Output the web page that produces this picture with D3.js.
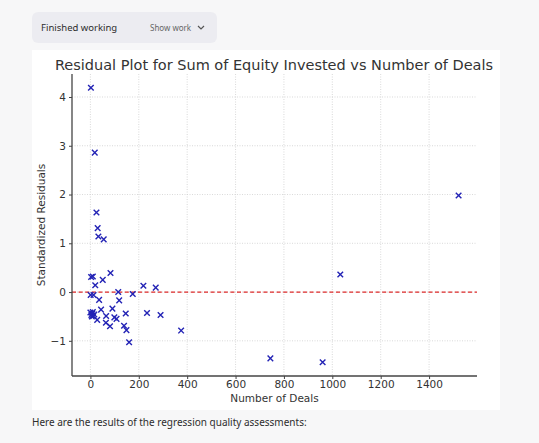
<!DOCTYPE html>
<meta charset="utf-8">
<style>
    body { margin: 0; background: #f7f7f8; }
    svg { display: block; font-family: "DejaVu Sans", sans-serif; }
    .grid line { stroke: #cfcfcf; stroke-dasharray: 1,1.5; stroke-width: 0.8; }
    .axis text { fill: #333; font-size: 10.5px; font-family: "DejaVu Sans", sans-serif; }
    .axis path, .axis line { stroke: #444; }
</style>
<script src="https://d3js.org/d3.v7.min.js"></script>
<body>
<script>
    var deals = [2, 18, 25, 30, 33, 55, 3, 10, 20, 51, 83, 1, 13, 36, 115, 119, 175, 219, 270,
        0, 4, 8, 12, 16, 6, 10, 44, 28, 65, 64, 81, 91, 99, 108, 146, 139, 149, 160,
        234, 290, 375, 744, 960, 1033, 1522];
    var residuals = [4.19, 2.86, 1.63, 1.31, 1.14, 1.08, 0.31, 0.32, 0.14, 0.25, 0.39, -0.06, -0.06, -0.16, 0.00, -0.17, -0.04, 0.13, 0.09,
        -0.42, -0.47, -0.44, -0.49, -0.46, -0.50, -0.41, -0.36, -0.57, -0.49, -0.63, -0.70, -0.34, -0.52, -0.55, -0.44, -0.69, -0.78, -1.03,
        -0.43, -0.47, -0.79, -1.36, -1.44, 0.36, 1.98];
    var xTicks = [0, 200, 400, 600, 800, 1000, 1200, 1400];
    var yTicks = [-1, 0, 1, 2, 3, 4];

    var width = 539, height = 443;
    var plot = {left: 72, right: 477, top: 74, bottom: 376};

    var svg = d3.select("body").append("svg")
        .attr("width", width)
        .attr("height", height);

    // page chrome
    svg.append("rect").attr("width", width).attr("height", height).attr("fill", "#f7f7f8");
    svg.append("rect").attr("x", 32).attr("y", 12).attr("width", 185).attr("height", 31)
        .attr("rx", 6).attr("fill", "#ececf1");
    svg.append("text").attr("x", 41).attr("y", 31).attr("font-size", 9.5)
        .attr("font-family", "Noto Sans, sans-serif").attr("fill", "#2d2d2d").text("Finished working");
    svg.append("text").attr("x", 150).attr("y", 31).attr("font-size", 8)
        .attr("font-family", "Noto Sans, sans-serif").attr("fill", "#666").text("Show work");
    svg.append("path").attr("d", "M198,26 l3,3 l3,-3").attr("fill", "none")
        .attr("stroke", "#555").attr("stroke-width", 1.2);
    svg.append("rect").attr("x", 32).attr("y", 50).attr("width", 468).attr("height", 360).attr("fill", "#fff");
    svg.append("text").attr("x", 32).attr("y", 426).attr("font-size", 10)
        .attr("font-family", "Noto Sans, sans-serif").attr("fill", "#2d2d2d")
        .text("Here are the results of the regression quality assessments:");

    var xExt = d3.extent(deals), yExt = d3.extent(residuals);
    var xPad = (xExt[1] - xExt[0]) * 0.05, yPad = (yExt[1] - yExt[0]) * 0.05;
    var x = d3.scaleLinear().domain([xExt[0] - xPad, xExt[1] + xPad]).range([plot.left, plot.right]);
    var y = d3.scaleLinear().domain([yExt[0] - yPad, yExt[1] + yPad]).range([plot.bottom, plot.top]);

    var grid = svg.append("g").attr("class", "grid");
    grid.selectAll(".gx").data(xTicks).enter().append("line")
        .attr("x1", function(d) { return x(d); }).attr("x2", function(d) { return x(d); })
        .attr("y1", plot.top).attr("y2", plot.bottom);
    grid.selectAll(".gy").data(yTicks).enter().append("line")
        .attr("y1", function(d) { return y(d); }).attr("y2", function(d) { return y(d); })
        .attr("x1", plot.left).attr("x2", plot.right);

    svg.append("line")
        .attr("x1", plot.left).attr("x2", plot.right)
        .attr("y1", y(0)).attr("y2", y(0))
        .attr("stroke", "#dd2a2a").attr("stroke-width", 1.3).attr("stroke-dasharray", "4,2.6");

    var pts = d3.range(deals.length);
    svg.append("g").selectAll("path").data(pts).enter().append("path")
        .attr("d", function(i) {
            var cx = x(deals[i]), cy = y(residuals[i]), s = 2.8;
            return "M" + (cx - s) + "," + (cy - s) + "L" + (cx + s) + "," + (cy + s) +
                "M" + (cx - s) + "," + (cy + s) + "L" + (cx + s) + "," + (cy - s);
        })
        .attr("stroke", "#2323b5").attr("stroke-width", 1.4).attr("fill", "none");

    var xAxis = svg.append("g").attr("class", "axis")
        .attr("transform", "translate(0," + plot.bottom + ")")
        .call(d3.axisBottom(x).tickValues(xTicks).tickSize(3).tickPadding(2).tickFormat(d3.format("d")));
    var yAxis = svg.append("g").attr("class", "axis")
        .attr("transform", "translate(" + plot.left + ",0)")
        .call(d3.axisLeft(y).tickValues(yTicks).tickSize(3).tickPadding(3)
            .tickFormat(function(d) { return d < 0 ? "\u2212" + Math.abs(d) : d; }));
    xAxis.select(".domain").attr("d", "M" + plot.left + ",0H" + plot.right).attr("stroke-width", 1.3);
    yAxis.select(".domain").attr("d", "M0," + plot.top + "V" + plot.bottom).attr("stroke-width", 1.3);

    svg.append("text").attr("x", (plot.left + plot.right) / 2).attr("y", 402)
        .attr("text-anchor", "middle").attr("font-size", 10.5).attr("fill", "#333")
        .text("Number of Deals");
    svg.append("text").attr("transform", "translate(45," + ((plot.top + plot.bottom) / 2) + ") rotate(-90)")
        .attr("text-anchor", "middle").attr("font-size", 10.5).attr("fill", "#333")
        .text("Standardized Residuals");
    svg.append("text").attr("x", 274).attr("y", 70)
        .attr("text-anchor", "middle").attr("font-size", 14.5).attr("fill", "#333")
        .text("Residual Plot for Sum of Equity Invested vs Number of Deals");
</script>
